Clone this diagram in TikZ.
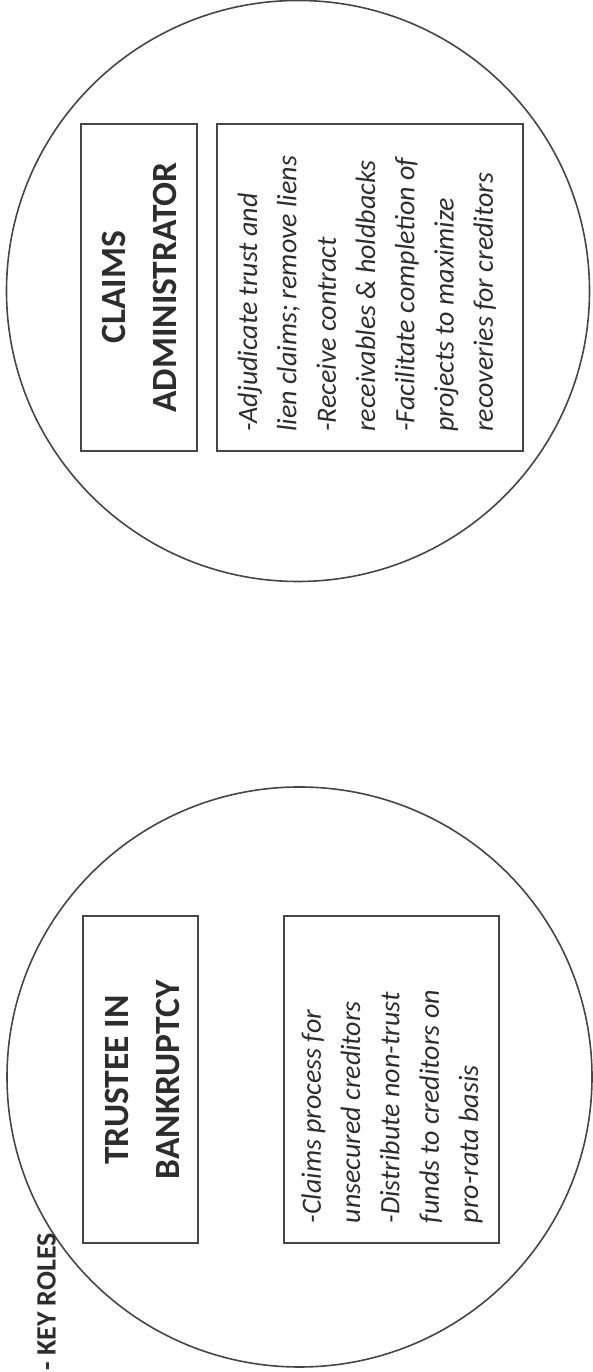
\documentclass[tikz,border=0pt]{standalone}
\usepackage{fontspec}
\setmainfont{Carlito}
\usetikzlibrary{shapes.geometric}
\definecolor{textgray}{RGB}{45,45,45}
\definecolor{linegray}{RGB}{70,70,70}
\tikzset{
  roleoval/.style={ellipse, draw=linegray, line width=1.6pt, inner sep=0pt},
  rolebox/.style={rectangle, draw=linegray, line width=2pt, inner sep=0pt},
  roletitle/.style={rotate=90, align=center, inner sep=0pt, text=textgray,
    font=\fontsize{35.5}{51}\selectfont\bfseries},
  roledesc/.style={rotate=90, align=left, inner sep=0pt, anchor=west, text=textgray,
    font=\fontsize{28}{39.3}\selectfont\itshape},
  keylabel/.style={rotate=90, anchor=west, inner sep=0pt, text=textgray,
    font=\fontsize{28}{34}\selectfont\bfseries}
}
\begin{document}
\begin{tikzpicture}[x=1pt,y=1pt]
\useasboundingbox (0,0) rectangle (592,1372);
% top oval: claims administrator
\node[roleoval, minimum width=583pt, minimum height=581pt] (caoval) at (298,1081) {};
\node[rolebox, minimum width=116pt, minimum height=327pt] (catitlebox) at (139,1084.5) {};
\node[rolebox, minimum width=306pt, minimum height=327pt] (cadescbox) at (370,1084.5) {};
\node[roletitle] (catitle) at (139.5,1084.5) {CLAIMS\\ADMINISTRATOR};
\node[roledesc] (cadesc) at (367,940) {-Adjudicate trust and\\lien claims; remove liens\\-Receive contract\\receivables \& holdbacks\\-Facilitate completion of\\projects to maximize\\recoveries for creditors};
% bottom oval: trustee in bankruptcy
\node[roleoval, minimum width=585pt, minimum height=580pt] (tboval) at (299.5,295) {};
\node[rolebox, minimum width=115pt, minimum height=327pt] (tbtitlebox) at (140.5,292.5) {};
\node[rolebox, minimum width=215pt, minimum height=327pt] (tbdescbox) at (391.5,292.5) {};
\node[roletitle] (tbtitle) at (142,292) {TRUSTEE IN\\BANKRUPTCY};
\node[roledesc] (tbdesc) at (392,148.5) {-Claims process for\\unsecured creditors\\-Distribute non-trust\\funds to creditors on\\pro-rata basis};
% label
\node[keylabel] (keyroles) at (46.5,1) {- KEY ROLES};
\end{tikzpicture}
\end{document}
